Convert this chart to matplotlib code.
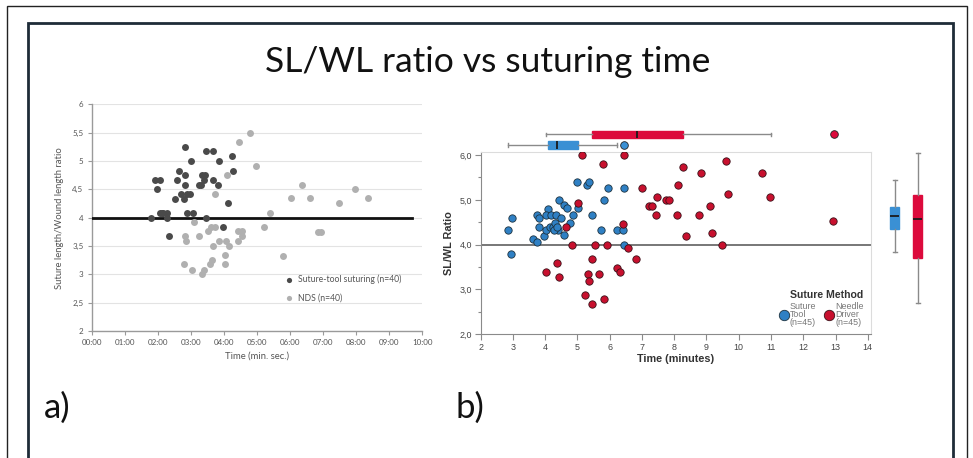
import matplotlib
matplotlib.use("Agg")
import matplotlib.pyplot as plt
from matplotlib.patches import Rectangle
from matplotlib.lines import Line2D

# ---------------- data ----------------
# Panel a: time in minutes, SL/WL ratio
tool_time = [1.79, 1.90, 2.07, 1.97, 2.08, 2.12, 2.17, 2.29, 2.29, 2.33, 2.57, 2.63,
             2.53, 2.69, 2.79, 2.83, 2.83, 2.83, 2.89, 2.97, 2.88, 3.07, 3.00, 3.25,
             3.30, 3.33, 3.44, 3.39, 3.47, 3.68, 3.68, 3.47, 3.85, 3.83, 3.98, 4.12,
             4.24, 4.26]
tool_ratio = [4.00, 4.67, 4.67, 4.50, 4.09, 4.09, 4.09, 4.09, 4.00, 3.67, 4.67, 4.83,
              4.33, 4.42, 4.33, 5.25, 4.75, 4.58, 4.42, 4.42, 4.09, 4.09, 5.00, 4.58,
              4.58, 4.75, 4.75, 4.67, 5.17, 5.17, 4.67, 4.00, 5.00, 4.58, 3.83, 4.25,
              5.08, 4.83]
nds_time = [2.78, 2.83, 2.85, 3.03, 3.09, 3.24, 3.34, 3.39, 3.52, 3.57, 3.63, 3.62,
            3.72, 3.67, 3.72, 3.85, 4.04, 4.04, 4.06, 4.14, 4.10, 4.43, 4.56, 4.56,
            4.43, 4.47, 4.78, 4.98, 5.39, 5.21, 5.78, 6.03, 6.37, 6.60, 6.85, 6.94,
            7.49, 7.95, 8.35]
nds_ratio = [3.18, 3.68, 3.59, 3.08, 3.92, 3.68, 3.00, 3.08, 3.76, 3.18, 3.25, 3.83,
             3.83, 3.50, 4.42, 3.59, 3.34, 3.18, 3.59, 3.50, 4.75, 3.76, 3.76, 3.68,
             3.59, 5.33, 5.50, 4.92, 4.08, 3.83, 3.33, 4.34, 4.58, 4.34, 3.75, 3.75,
             4.25, 4.50, 4.34]
time_ticks = ["00:00", "01:00", "02:00", "03:00", "04:00", "05:00",
              "06:00", "07:00", "08:00", "09:00", "10:00"]
ratio_ticks_a = ["2", "2,5", "3", "3,5", "4", "4,5", "5", "5,5", "6"]

# Panel b: time in minutes, SL/WL ratio
st_time = [2.96, 2.85, 2.94, 3.63, 3.74, 3.74, 3.80, 3.81, 3.96, 4.02, 4.10, 4.02,
           4.17, 4.33, 4.15, 4.25, 4.31, 4.43, 4.40, 4.49, 4.57, 4.59, 4.67, 4.77,
           4.85, 5.00, 5.01, 5.31, 5.37, 5.44, 5.73, 5.94, 5.81, 6.22, 6.42, 6.45,
           6.44, 4.28, 4.36]
st_ratio = [4.60, 4.33, 3.80, 4.13, 4.07, 4.67, 4.59, 4.40, 4.20, 4.33, 4.80, 4.67,
            4.67, 4.67, 4.39, 4.39, 4.48, 5.00, 4.33, 4.59, 4.21, 4.88, 4.81, 4.48,
            4.67, 5.40, 4.81, 5.33, 5.40, 4.67, 4.33, 5.26, 5.00, 4.33, 4.33, 5.26,
            3.99, 4.33, 4.39]
nd_time = [5.13, 6.45, 5.80, 5.01, 4.65, 4.03, 4.36, 4.42, 4.82, 5.53, 5.91, 6.58,
           5.44, 5.32, 5.37, 5.23, 5.45, 5.66, 5.81, 6.22, 6.32, 6.40, 6.82, 7.01,
           7.22, 7.32, 7.45, 7.48, 7.75, 7.85, 8.08, 8.12, 8.26, 8.37, 8.82, 8.78,
           9.10, 9.16, 9.47, 9.61, 9.66, 10.71, 10.98, 12.93]
nd_ratio = [6.00, 6.00, 5.80, 4.94, 4.39, 3.40, 3.60, 3.27, 4.00, 4.00, 4.00, 3.93,
            3.67, 3.34, 3.19, 2.87, 2.67, 3.34, 2.79, 3.47, 3.40, 4.47, 3.67, 5.26,
            4.87, 4.87, 4.67, 5.07, 5.00, 5.00, 4.67, 5.33, 5.73, 4.19, 5.60, 4.66,
            4.86, 4.26, 3.99, 5.87, 5.13, 5.60, 5.06, 4.53]
ratio_ticks_b = ["2,0", "3,0", "4,0", "5,0", "6,0"]

# Box-plot summaries: [whisker low, Q1, median, Q3, whisker high]
st_time_box = [2.85, 4.09, 4.38, 5.01, 6.23]
st_time_out = [6.44]
nd_time_box = [4.02, 5.46, 6.85, 8.28, 10.99]
nd_time_out = [12.95]
st_ratio_box = [3.84, 4.36, 4.64, 4.85, 5.44]
nd_ratio_box = [2.70, 3.71, 4.57, 5.11, 6.04]

# ---------------- styling ----------------
BLUE = "#2f80c4"
RED = "#c8102e"
BOX_BLUE = "#3a90d4"
BOX_RED = "#dc0a3c"
DARK = "#4a4a4a"
LIGHT = "#b0b0b0"
SANS_A = ["Lato", "DejaVu Sans"]
SANS_B = ["Liberation Sans", "DejaVu Sans"]

W, H = 973, 458
fig = plt.figure(figsize=(W / 100, H / 100), dpi=100)
fig.patch.set_facecolor("white")


def fx(px):
    return px / W


def fy(py):
    return 1 - py / H


# slide frames
fig.add_artist(Rectangle((fx(7), -0.05), fx(967) - fx(7), fy(6) + 0.05,
                         transform=fig.transFigure, fill=False,
                         edgecolor="#222222", linewidth=1.0))
fig.add_artist(Rectangle((fx(28), -0.05), fx(953) - fx(28), fy(23) + 0.05,
                         transform=fig.transFigure, fill=False,
                         edgecolor="#1e2c38", linewidth=2.0))

fig.text(0.5015, fy(62), "SL/WL ratio vs suturing time", ha="center", va="center",
         fontsize=25.5, family=SANS_A, color="#111111")
fig.text(fx(44), fy(408), "a)", ha="left", va="center", fontsize=25,
         family=SANS_A, color="#111111")
fig.text(fx(455), fy(408), "b)", ha="left", va="center", fontsize=25,
         family=SANS_A, color="#111111")

# ---------------- panel a ----------------
axA = fig.add_axes([fx(91.7), fy(331), fx(422.3) - fx(91.7), fy(104.3) - fy(331)])
axA.set_xlim(0, 10)
axA.set_ylim(2, 6)
axA.set_yticks([2 + 0.5 * i for i in range(len(ratio_ticks_a))])
axA.set_yticklabels(ratio_ticks_a)
axA.set_xticks(range(len(time_ticks)))
axA.set_xticklabels(time_ticks)
axA.grid(axis="y", color="#e3e3e3", linewidth=0.8)
axA.set_axisbelow(True)
for s in ("top", "right"):
    axA.spines[s].set_visible(False)
for s in ("left", "bottom"):
    axA.spines[s].set_color("#9a9a9a")
    axA.spines[s].set_linewidth(1.0)
axA.tick_params(length=3, width=0.8, color="#9a9a9a", labelsize=5.8,
                labelcolor="#555555", pad=3)
for lab in axA.get_xticklabels() + axA.get_yticklabels():
    lab.set_family(SANS_A)
axA.plot([0, 9.7], [4, 4], color="#111111", linewidth=2.0, zorder=3)
axA.scatter(tool_time, tool_ratio, s=25, color=DARK, linewidths=0, zorder=4,
            label="Suture-tool suturing (n=40)")
axA.scatter(nds_time, nds_ratio, s=25, color=LIGHT, linewidths=0, zorder=4,
            label="NDS (n=40)")
axA.set_ylabel("Suture length/Wound length ratio", fontsize=6.8, color="#555555",
               family=SANS_A, labelpad=6)
axA.set_xlabel("Time (min. sec.)", fontsize=6.8, color="#555555", family=SANS_A,
               labelpad=4)
legA = axA.legend(loc="upper left", bbox_to_anchor=(0.56, 0.265), frameon=False,
                  handletextpad=0.0, labelspacing=1.1, borderaxespad=0,
                  prop={"family": SANS_A, "size": 6.2}, markerscale=0.75)
for t in legA.get_texts():
    t.set_color("#555555")

# ---------------- panel b ----------------
YB = (2.0, 6.06)
axB = fig.add_axes([fx(480.7), fy(334.3), fx(871) - fx(480.7), fy(152.3) - fy(334.3)])
axB.set_xlim(2, 14.1)
axB.set_ylim(*YB)
axB.set_xticks(range(2, 15))
axB.set_yticks([2, 3, 4, 5, 6])
axB.set_yticklabels(ratio_ticks_b)
axB.set_yticks([2.5, 3.5, 4.5, 5.5], minor=True)
for s in ("top", "right"):
    axB.spines[s].set_color("#dcdcdc")
for s in ("left", "bottom"):
    axB.spines[s].set_color("#8a8a8a")
axB.tick_params(which="major", length=4, width=0.8, color="#8a8a8a",
                labelsize=6.4, labelcolor="#444444", pad=2)
axB.tick_params(which="minor", length=2, width=0.8, color="#8a8a8a")
for lab in axB.get_xticklabels() + axB.get_yticklabels():
    lab.set_family(SANS_B)
axB.axhline(4.0, color="#777777", linewidth=1.4, zorder=2)
axB.scatter(st_time, st_ratio, s=28, color=BLUE, edgecolors="#1d3340",
            linewidths=0.6, zorder=4)
axB.scatter(nd_time, nd_ratio, s=28, color=RED, edgecolors="#3a1018",
            linewidths=0.6, zorder=4)
axB.set_xlabel("Time (minutes)", fontsize=7.8, fontweight="bold",
               family=SANS_B, color="#333333", labelpad=2)
axB.set_ylabel("SL/WL Ratio", fontsize=7.8, fontweight="bold",
               family=SANS_B, color="#333333", labelpad=4)

handles = [Line2D([], [], linestyle="", marker="o", markersize=7.5,
                  markerfacecolor=BLUE, markeredgecolor="#1d3340", markeredgewidth=0.6),
           Line2D([], [], linestyle="", marker="o", markersize=7.5,
                  markerfacecolor=RED, markeredgecolor="#3a1018", markeredgewidth=0.6)]
legB = axB.legend(handles, ["Suture\nTool\n(n=45)", "Needle\nDriver\n(n=45)"],
                  title="Suture Method", ncol=2, loc="lower right",
                  bbox_to_anchor=(0.99, 0.02), frameon=False,
                  handletextpad=0.15, columnspacing=1.0, borderaxespad=0,
                  labelspacing=0.2, handlelength=1.0,
                  prop={"family": SANS_B, "size": 6.4})
legB.set_title("Suture Method", prop={"family": SANS_B, "size": 7.6,
                                      "weight": "bold"})
legB.get_title().set_color("#333333")
legB._legend_box.align = "right"
for t in legB.get_texts():
    t.set_color("#777777")
    t.set_linespacing(0.9)


def stats(b, out):
    return {"whislo": b[0], "q1": b[1], "med": b[2], "q3": b[3], "whishi": b[4],
            "fliers": out}


def draw_boxes(ax, data, colors, orient, width):
    bp = ax.bxp(data, positions=[1, 2], widths=width, patch_artist=True,
                orientation=orient, showfliers=True, capwidths=width * 0.45,
                medianprops={"color": "#1a1a1a", "linewidth": 1.3},
                whiskerprops={"color": "#8a8a8a", "linewidth": 1.0},
                capprops={"color": "#8a8a8a", "linewidth": 1.0})
    for box, c in zip(bp["boxes"], colors):
        box.set_facecolor(c)
        box.set_edgecolor(c)
    for fl, c in zip(bp["fliers"], colors):
        fl.set_marker("o")
        fl.set_markerfacecolor(c)
        fl.set_markeredgecolor("#222222")
        fl.set_markeredgewidth(0.6)
        fl.set_markersize(5.5)
    return bp


# top margin: time distributions
axT = fig.add_axes([fx(480.7), fy(152.5), fx(871) - fx(480.7), 25.7 / H])
draw_boxes(axT, [stats(st_time_box, st_time_out), stats(nd_time_box, nd_time_out)],
           [BOX_BLUE, BOX_RED], "horizontal", 0.66)
axT.set_xlim(2, 14.1)
axT.set_ylim(0.3, 2.7)
axT.axis("off")

# right margin: ratio distributions
axM = fig.add_axes([fx(880), fy(334.3), 51.5 / W, fy(152.3) - fy(334.3)])
draw_boxes(axM, [stats(st_ratio_box, []), stats(nd_ratio_box, [])],
           [BOX_BLUE, BOX_RED], "vertical", 0.4)
axM.set_ylim(*YB)
axM.set_xlim(0.36, 2.6)
axM.axis("off")

fig.savefig("out.png", dpi=100, facecolor="white")
